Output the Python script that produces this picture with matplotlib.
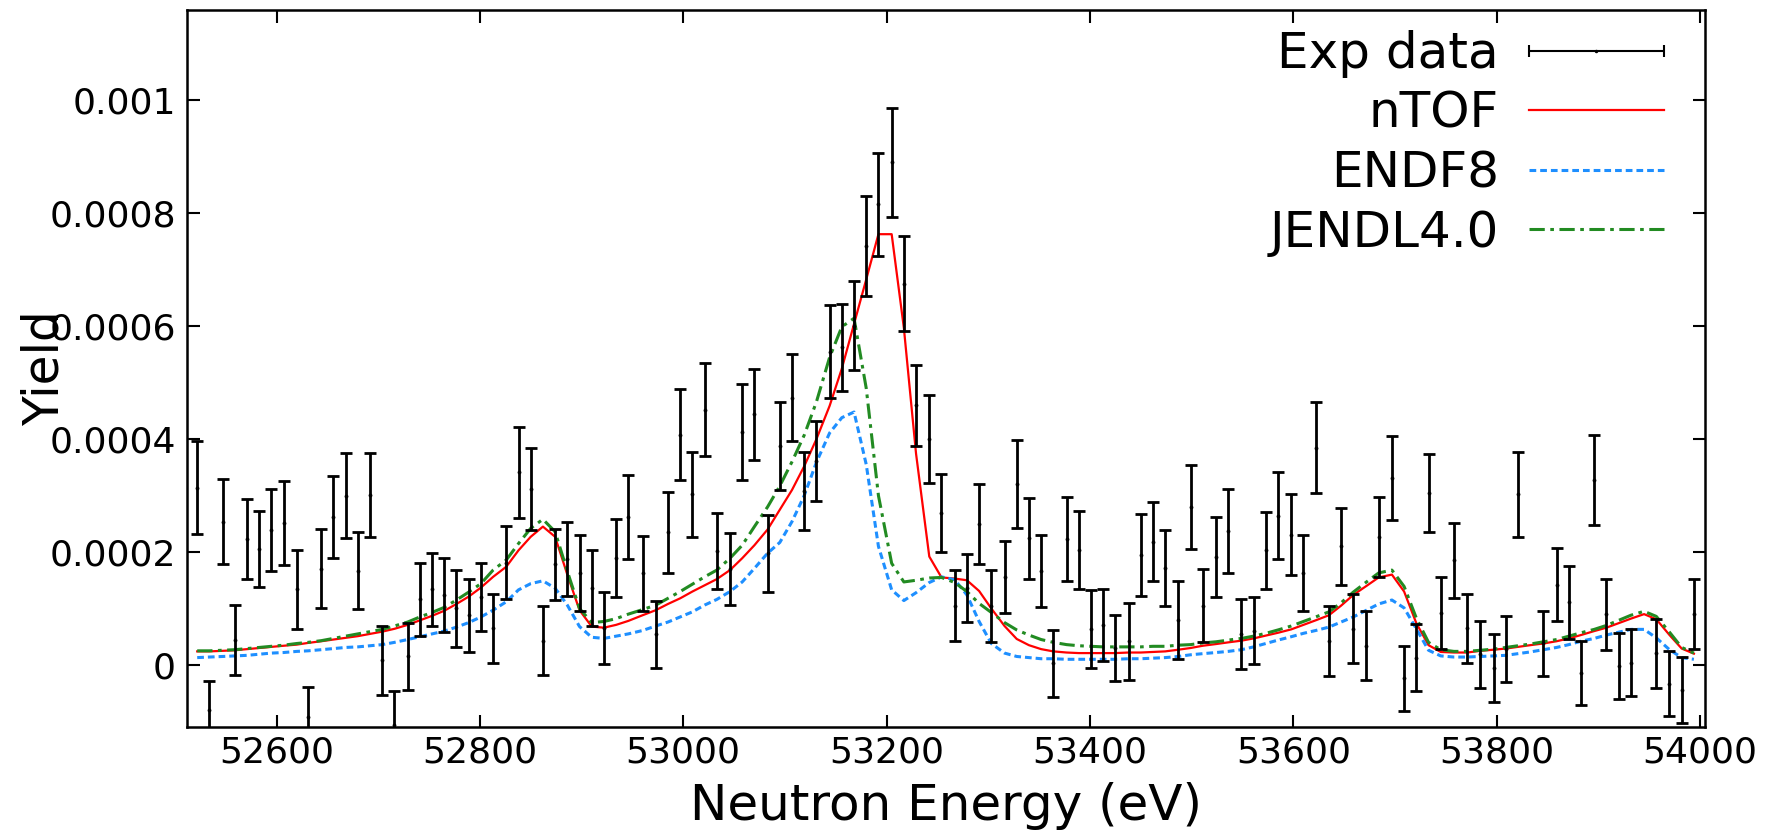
import numpy as np
import matplotlib
matplotlib.use("Agg")
import matplotlib.pyplot as plt
from matplotlib.ticker import FixedLocator, FuncFormatter
from matplotlib.legend_handler import HandlerErrorbar

# neutron energy grid (eV)
energy = [52522, 52534, 52547, 52559, 52571, 52583, 52595, 52607, 52620, 52631,
          52644, 52656, 52668, 52680, 52692, 52704, 52716, 52729, 52741, 52753,
          52765, 52777, 52789, 52801, 52813, 52826, 52838, 52850, 52862, 52874,
          52886, 52898, 52910, 52922, 52934, 52946, 52960, 52973, 52985, 52997,
          53009, 53021, 53033, 53046, 53058, 53070, 53083, 53095, 53107, 53119,
          53131, 53144, 53156, 53168, 53180, 53192, 53205, 53217, 53229, 53242,
          53254, 53267, 53279, 53291, 53303, 53316, 53328, 53340, 53352, 53364,
          53377, 53389, 53401, 53413, 53425, 53438, 53450, 53462, 53474, 53487,
          53499, 53511, 53524, 53536, 53549, 53561, 53573, 53585, 53598, 53610,
          53622, 53635, 53647, 53659, 53672, 53684, 53697, 53709, 53721, 53733,
          53745, 53758, 53771, 53784, 53797, 53809, 53821, 53833, 53846, 53859,
          53871, 53883, 53896, 53908, 53920, 53932, 53945, 53957, 53970, 53982,
          53994]

# measured yield (x1e-4), nan = point off the bottom of the plot
exp_yield = [3.14, -0.80, 2.54, 0.44, 2.23, 2.05, 2.39, 2.51, 1.34, -0.92,
             1.70, 2.62, 3.00, 1.67, 3.01, 0.08, -1.06, 0.15, 1.16, 1.34,
             1.24, 1.00, 0.88, 1.21, 0.65, 1.81, 3.41, 3.12, 0.43, 1.78,
             1.88, 1.63, 1.36, 0.65, 1.89, 2.62, 1.62, 0.54, 2.35, 4.08,
             3.02, 4.52, 2.02, 1.70, 4.13, 4.44, 1.98, 3.88, 4.73, 3.08,
             3.61, 5.55, 5.63, 6.01, 7.42, 8.16, 8.90, 6.75, 4.60, 4.00,
             2.69, 1.05, 1.36, 2.49, 1.05, 1.56, 3.21, 2.24, 1.66, 0.03,
             2.23, 2.03, 0.63, 0.71, 0.30, 0.42, 1.95, 2.18, 1.72, 0.80,
             2.80, 1.05, 1.91, 2.37, 0.55, 0.61, 2.03, 2.64, 2.31, 1.63,
             3.85, 0.43, 2.10, 0.64, 0.34, 2.27, 3.31, -0.24, 0.13, 3.04,
             0.92, 1.85, 0.65, 0.19, -0.06, 0.28, 3.02, np.nan, 0.38, 1.42,
             1.11, -0.14, 3.27, 0.90, -0.02, 0.04, np.nan, 0.21, -0.33, -0.44,
             0.90]
exp_err = [0.82, 0.51, 0.75, 0.62, 0.71, 0.67, 0.72, 0.74, 0.70, 0.53,
           0.70, 0.73, 0.75, 0.68, 0.75, 0.61, 0.59, 0.59, 0.65, 0.65,
           0.65, 0.68, 0.65, 0.60, 0.61, 0.65, 0.80, 0.73, 0.61, 0.63,
           0.66, 0.68, 0.67, 0.64, 0.69, 0.74, 0.66, 0.60, 0.72, 0.80,
           0.75, 0.82, 0.67, 0.64, 0.85, 0.81, 0.68, 0.78, 0.77, 0.69,
           0.71, 0.82, 0.77, 0.79, 0.89, 0.91, 0.96, 0.84, 0.72, 0.78,
           0.69, 0.63, 0.60, 0.71, 0.64, 0.64, 0.78, 0.71, 0.64, 0.59,
           0.74, 0.69, 0.69, 0.64, 0.59, 0.68, 0.73, 0.70, 0.67, 0.69,
           0.74, 0.65, 0.71, 0.74, 0.62, 0.60, 0.68, 0.77, 0.71, 0.67,
           0.80, 0.62, 0.68, 0.61, 0.61, 0.71, 0.75, 0.58, 0.59, 0.69,
           0.63, 0.67, 0.61, 0.59, 0.60, 0.58, 0.75, np.nan, 0.58, 0.65,
           0.65, 0.57, 0.80, 0.63, 0.59, 0.59, np.nan, 0.61, 0.58, 0.58,
           0.62]

# calculated yields (x1e-4)
ntof = [0.24, 0.24, 0.25, 0.26, 0.28, 0.30, 0.32, 0.34, 0.36, 0.39,
        0.42, 0.45, 0.48, 0.51, 0.55, 0.59, 0.64, 0.71, 0.79, 0.87,
        0.96, 1.08, 1.21, 1.37, 1.56, 1.74, 2.03, 2.27, 2.45, 2.27,
        1.60, 0.97, 0.68, 0.66, 0.71, 0.78, 0.88, 0.97, 1.08, 1.18,
        1.30, 1.41, 1.52, 1.68, 1.89, 2.12, 2.40, 2.75, 3.10, 3.52,
        4.00, 4.59, 5.25, 6.04, 6.83, 7.63, 7.63, 5.97, 3.74, 1.92,
        1.55, 1.53, 1.50, 1.31, 1.00, 0.69, 0.46, 0.35, 0.28, 0.24,
        0.22, 0.21, 0.21, 0.21, 0.21, 0.22, 0.22, 0.23, 0.24, 0.27,
        0.30, 0.34, 0.37, 0.40, 0.43, 0.47, 0.52, 0.57, 0.63, 0.71,
        0.79, 0.88, 1.05, 1.24, 1.40, 1.55, 1.60, 1.30, 0.74, 0.35,
        0.23, 0.22, 0.22, 0.25, 0.27, 0.29, 0.32, 0.35, 0.38, 0.42,
        0.47, 0.53, 0.60, 0.66, 0.74, 0.82, 0.90, 0.81, 0.53, 0.29,
        0.20]
endf8 = [0.13, 0.14, 0.15, 0.16, 0.17, 0.19, 0.21, 0.22, 0.24, 0.25,
         0.27, 0.29, 0.31, 0.32, 0.34, 0.36, 0.40, 0.45, 0.50, 0.55,
         0.60, 0.67, 0.75, 0.85, 0.97, 1.12, 1.33, 1.44, 1.49, 1.36,
         1.06, 0.68, 0.49, 0.47, 0.51, 0.55, 0.61, 0.69, 0.76, 0.85,
         0.94, 1.06, 1.16, 1.30, 1.47, 1.71, 1.98, 2.17, 2.54, 3.00,
         3.59, 4.11, 4.38, 4.48, 3.55, 2.10, 1.33, 1.14, 1.28, 1.46,
         1.56, 1.51, 1.24, 0.77, 0.38, 0.21, 0.15, 0.13, 0.11, 0.11,
         0.10, 0.10, 0.10, 0.10, 0.10, 0.11, 0.11, 0.12, 0.13, 0.15,
         0.18, 0.20, 0.22, 0.24, 0.27, 0.32, 0.38, 0.44, 0.50, 0.56,
         0.61, 0.67, 0.76, 0.85, 0.97, 1.08, 1.15, 1.01, 0.64, 0.26,
         0.16, 0.14, 0.14, 0.15, 0.16, 0.17, 0.20, 0.23, 0.27, 0.31,
         0.36, 0.42, 0.47, 0.53, 0.58, 0.63, 0.63, 0.48, 0.27, 0.13,
         0.10]
jendl40 = [0.25, 0.25, 0.26, 0.27, 0.29, 0.31, 0.33, 0.35, 0.38, 0.40,
           0.43, 0.47, 0.51, 0.55, 0.59, 0.63, 0.69, 0.76, 0.85, 0.93,
           1.02, 1.15, 1.29, 1.44, 1.68, 1.86, 2.15, 2.42, 2.58, 2.36,
           1.66, 1.00, 0.75, 0.77, 0.82, 0.90, 0.98, 1.06, 1.18, 1.30,
           1.43, 1.56, 1.68, 1.89, 2.12, 2.45, 2.80, 3.17, 3.60, 4.07,
           4.66, 5.45, 5.99, 6.14, 4.90, 3.00, 1.80, 1.47, 1.50, 1.54,
           1.55, 1.46, 1.30, 1.09, 0.93, 0.75, 0.62, 0.53, 0.45, 0.40,
           0.36, 0.34, 0.33, 0.32, 0.32, 0.32, 0.32, 0.33, 0.33, 0.35,
           0.36, 0.39, 0.41, 0.44, 0.47, 0.51, 0.56, 0.62, 0.69, 0.77,
           0.85, 0.94, 1.10, 1.29, 1.47, 1.63, 1.68, 1.39, 0.83, 0.40,
           0.27, 0.24, 0.24, 0.26, 0.28, 0.31, 0.34, 0.37, 0.41, 0.45,
           0.51, 0.57, 0.63, 0.70, 0.79, 0.88, 0.95, 0.86, 0.58, 0.31,
           0.21]

x_ticks = [52600, 52800, 53000, 53200, 53400, 53600, 53800, 54000]
y_ticks = [0, 0.0002, 0.0004, 0.0006, 0.0008, 0.001]

scale = 1e-4
E = np.array(energy)

fig = plt.figure(figsize=(17.83, 8.31), dpi=100)
ax = fig.add_axes([0.1049, 0.1251, 0.8514, 0.8628])

ax.errorbar(E, np.array(exp_yield) * scale, yerr=np.array(exp_err) * scale,
            fmt='.', color='black', markersize=3.5, elinewidth=2,
            capsize=4.5, capthick=2, zorder=3)
l1, = ax.plot(E, np.array(ntof) * scale, color='red', lw=1.6)
l2, = ax.plot(E, np.array(endf8) * scale, color='#1e8fff', lw=2.2,
              linestyle=(0, (2.2, 1.3)))
l3, = ax.plot(E, np.array(jendl40) * scale, color='#228b22', lw=2.2,
              linestyle=(0, (5, 1.8, 1.2, 1.8)))

# legend proxy for the data: horizontal bar with caps
proxy = ax.errorbar([np.nan], [np.nan], xerr=[1], fmt='.', color='black',
                    markersize=3, elinewidth=1.5, capsize=4, capthick=1.5)

ax.set_xlim(52512, 54005)
ax.set_ylim(-0.00011, 0.00116)
ax.xaxis.set_major_locator(FixedLocator(x_ticks))
ax.yaxis.set_major_locator(FixedLocator(y_ticks))
ax.yaxis.set_major_formatter(FuncFormatter(lambda v, p: '%g' % v))
ax.tick_params(direction='in', top=True, right=True, length=9, width=1.5,
               labelsize=26)
ax.tick_params(axis='x', pad=6)
ax.tick_params(axis='y', pad=8)
for s in ax.spines.values():
    s.set_linewidth(1.8)

ax.set_xlabel('Neutron Energy (eV)', fontsize=36, labelpad=9)
ax.set_ylabel('Yield', fontsize=35)
ax.yaxis.set_label_coords(-0.078, 0.5)

leg = ax.legend([proxy, l1, l2, l3], ['Exp data', 'nTOF', 'ENDF8', 'JENDL4.0'],
                loc='upper right', bbox_to_anchor=(0.986, 1.0),
                fontsize=36, frameon=False, markerfirst=False,
                handlelength=2.7, labelspacing=0.23, borderaxespad=0.2,
                borderpad=0.2, handletextpad=0.6,
                handler_map={type(proxy): HandlerErrorbar(xerr_size=1.35)})

fig.savefig('out.png', dpi=100)
